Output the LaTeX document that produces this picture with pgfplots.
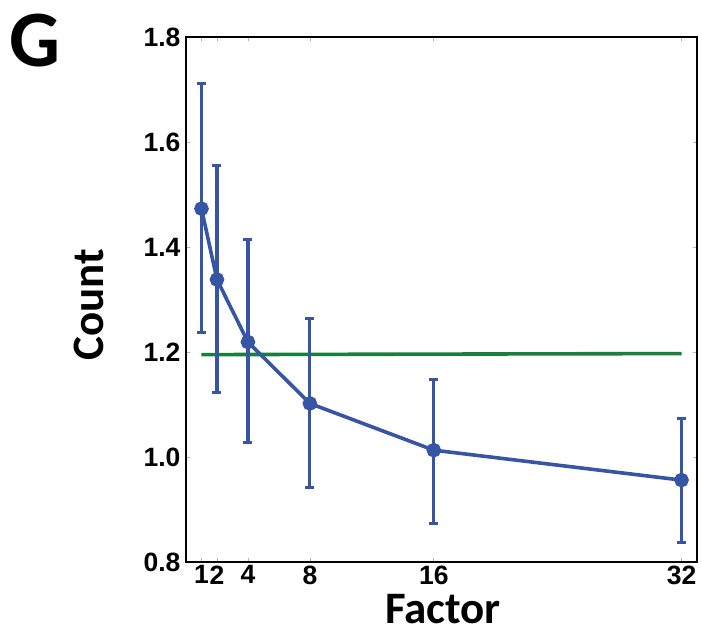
\documentclass[border=0pt]{standalone}
\usepackage{pgfplots}
\pgfplotsset{compat=1.18}
\usepackage{fontspec}
\setmainfont{Liberation Sans}
\newfontfamily\calfont{Carlito}
\definecolor{lblue}{RGB}{55,85,165}
\definecolor{lgreen}{RGB}{25,128,60}
\begin{document}
\begin{tikzpicture}
\begin{axis}[
  name=ax,
  at={(0,0)}, anchor=south west,
  scale only axis, width=511pt, height=525pt,
  xmin=0, xmax=33, ymin=0.8, ymax=1.8,
  xtick={1,2,4,8,16,32},
  ytick={0.8,1.0,1.2,1.4,1.6,1.8},
  yticklabel style={/pgf/number format/fixed,/pgf/number format/fixed zerofill,/pgf/number format/precision=1, xshift=-2pt},
  /pgf/number format/assume math mode=true,
  ticklabel style={font=\fontsize{26.5}{26.5}\selectfont\bfseries},
  tick style={gray!60, line width=0.6pt},
  major tick length=4pt,
  tick align=inside,
  axis line style={line width=1.2pt},
  xlabel={\calfont\bfseries Factor},
  ylabel={\calfont\bfseries Count},
  label style={font=\fontsize{45}{45}\selectfont, inner sep=0pt},
  xlabel style={at={(axis description cs:0.503,0)}, anchor=base, yshift=-62pt},
  ylabel style={at={(axis description cs:-0.162,0.49)}, anchor=base},
  clip=false,
]
\addplot[lgreen, line width=3.6pt] coordinates {(1,1.195) (32,1.197)};
\addplot[lblue, line width=3.6pt, mark=*, mark size=5.5pt,
  error bars/.cd, y dir=both, y explicit,
  error bar style={line width=3.2pt, lblue},
  error mark options={lblue, line width=3pt, mark size=4.5pt, rotate=90}]
  coordinates {
  (1,1.473) += (0,0.239) -= (0,0.235)
  (2,1.338) += (0,0.218) -= (0,0.215)
  (4,1.219) += (0,0.196) -= (0,0.192)
  (8,1.102) += (0,0.161) -= (0,0.160)
  (16,1.013) += (0,0.135) -= (0,0.140)
  (32,0.956) += (0,0.117) -= (0,0.118)
  };
\end{axis}
\node[font=\calfont\bfseries\fontsize{80}{80}\selectfont, anchor=base west, inner sep=0pt] at (-177pt,495pt) {G};
\pgfresetboundingbox
\path (-186pt,-72pt) rectangle (516pt,562pt);
\end{tikzpicture}
\end{document}
